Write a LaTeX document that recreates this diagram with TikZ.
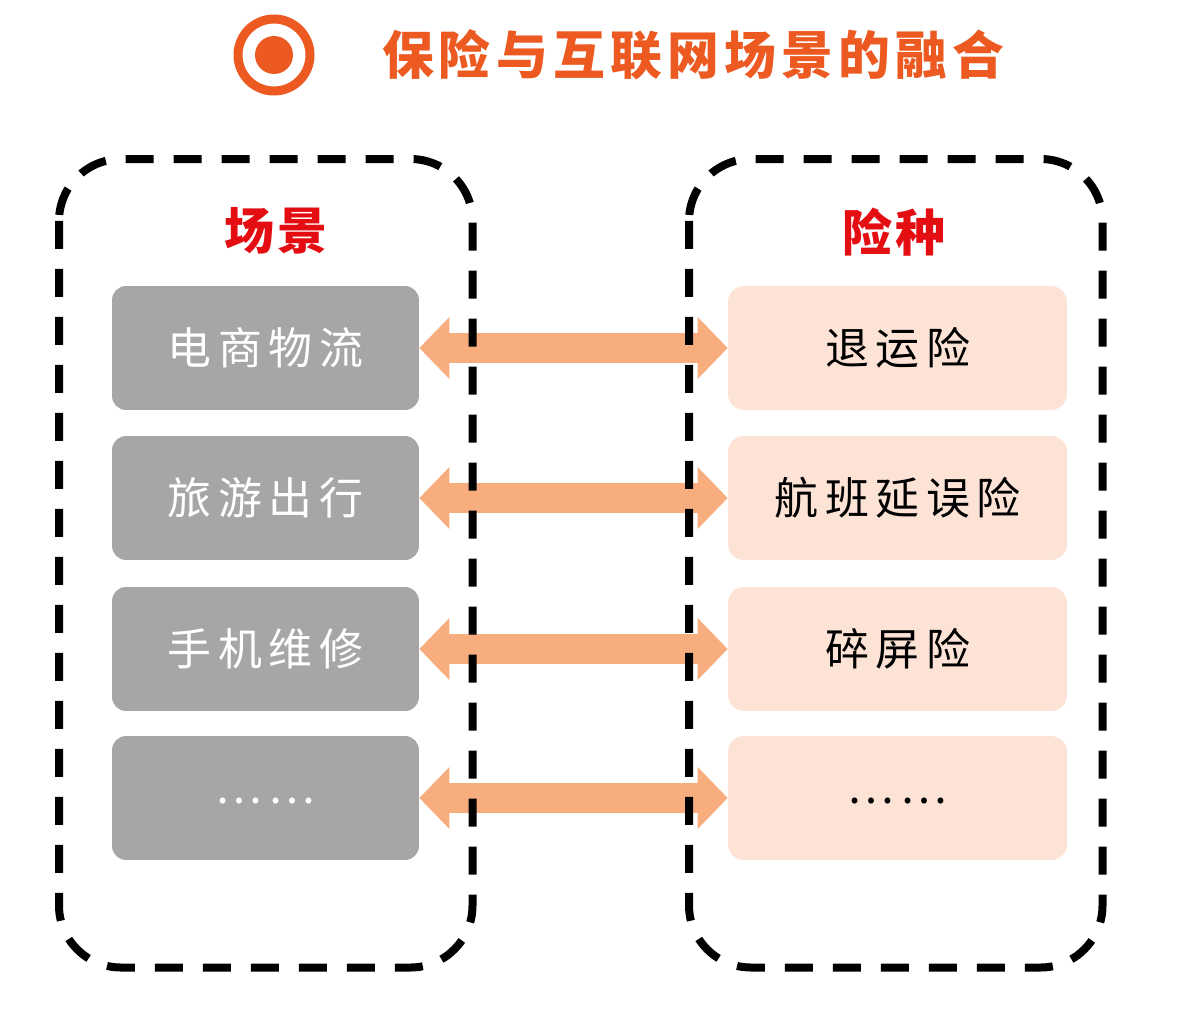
\documentclass[tikz,border=0pt]{standalone}
\usepackage{fontspec}
\newfontfamily\cjk{Noto Sans CJK SC}
\newfontfamily\cjkwide[LetterSpace=15]{Noto Sans CJK SC}
\newfontfamily\cjktitle[LetterSpace=10]{Noto Sans CJK SC}
\newfontfamily\cjkhead[LetterSpace=6]{Noto Sans CJK SC}
\usetikzlibrary{arrows.meta}
\definecolor{titleorange}{HTML}{EC5A22}
\definecolor{headred}{HTML}{E30D12}
\definecolor{scenegray}{HTML}{A6A6A6}
\definecolor{insurepink}{HTML}{FCE3D5}
\definecolor{linkorange}{HTML}{F8AD7E}
\begin{document}
\begin{tikzpicture}[x=0.02cm, y=-0.02cm,
	every node/.style={text centered, inner sep=0pt},
	scene/.style={rectangle, rounded corners=0.28cm, fill=scenegray, text=white,
		minimum width=6.14cm, minimum height=2.48cm, font=\cjkwide\fontsize{25}{25}\selectfont},
	insure/.style={rectangle, rounded corners=0.32cm, fill=insurepink, text=black,
		minimum width=6.78cm, minimum height=2.48cm, font=\cjkwide\fontsize{25}{25}\selectfont},
	head/.style={text=headred, font=\cjkhead\bfseries\fontsize{28.5}{28.5}\selectfont},
	link/.style={draw=linkorange, line width=0.6cm,
		{Triangle[length=0.6cm, width=1.2cm]}-{Triangle[length=0.6cm, width=1.2cm]}},
	frame/.style={draw=black, line width=0.16cm, dash pattern=on 0.56cm off 0.4cm, rounded corners=1.24cm}]
	\fill[white] (0, 0) rectangle (1196, 1034);
	\useasboundingbox (0, 0) rectangle (1196, 1034);

	% title
	\node[circle, draw=titleorange, line width=0.18cm, minimum size=1.44cm] (mark) at (274, 55) {};
	\node[circle, fill=titleorange, minimum size=0.76cm] (dot) at (274, 55) {};
	\node[text=titleorange, font=\cjktitle\bfseries\fontsize{29.5}{29.5}\selectfont] (title) at (693, 55)
		{保险与互联网场景的融合};

	% columns
	\node[head] (scenehead) at (276, 231) {场景};
	\node[head] (insurehead) at (894, 232) {险种};

	\path	(265.5, 348)	node[scene] (s1) {电商物流}
			(265.5, 498)	node[scene] (s2) {旅游出行}
			(265.5, 649)	node[scene] (s3) {手机维修}
			(265.5, 798)	node[scene] (s4) {\raisebox{-0.25em}{……}}

			(897.5, 348)	node[insure] (t1) {退运险}
			(897.5, 498)	node[insure] (t2) {航班延误险}
			(897.5, 649)	node[insure] (t3) {碎屏险}
			(897.5, 798)	node[insure] (t4) {\raisebox{-0.25em}{……}}
	;

	\draw[link] (s1.east) -- (t1.west);
	\draw[link] (s2.east) -- (t2.west);
	\draw[link] (s3.east) -- (t3.west);
	\draw[link] (s4.east) -- (t4.west);

	% dashed groups
	\draw[frame] (59, 159) rectangle (472.5, 967.5);
	\draw[frame] (689, 159) rectangle (1102.5, 967.5);
\end{tikzpicture}
\end{document}
